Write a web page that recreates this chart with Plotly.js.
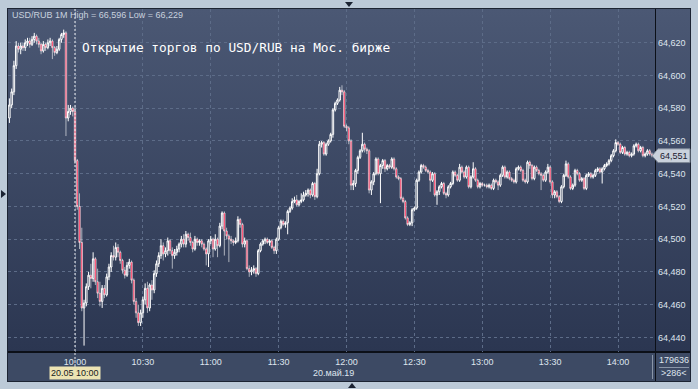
<!DOCTYPE html>
<html><head><meta charset="utf-8">
<script src="https://cdn.plot.ly/plotly-3.0.1.min.js"></script>
<style>
html,body{margin:0;padding:0;background:#bccad8;}
#wrap{position:relative;width:698px;height:389px;overflow:hidden;background:#bccad8;}
#bgTop{position:absolute;left:8px;top:9px;width:682px;height:343px;background:linear-gradient(#4b5874,#2b3651);}
#bgBot{position:absolute;left:8px;top:352px;width:682px;height:29px;background:#3d4a64;}
#frame{position:absolute;left:7px;top:8px;width:682px;height:372px;border:1px solid #1c2433;}
#hline{position:absolute;left:8px;top:351px;width:682px;height:2px;background:#0c1018;}
#vline{position:absolute;left:655px;top:9px;width:1px;height:372px;background:#0c1018;}
#vsep{position:absolute;left:652px;top:355px;width:1px;height:24px;background:#8a96a8;}
#hsep{position:absolute;left:659px;top:367px;width:30px;height:1px;background:#8a96a8;}
#chart{position:absolute;left:0;top:0;width:698px;height:389px;}
</style></head>
<body><div id="wrap">
<div id="bgTop"></div><div id="bgBot"></div><div id="frame"></div>
<div id="hline"></div><div id="vline"></div><div id="vsep"></div><div id="hsep"></div>
<div id="chart"></div></div>
<script>
const startDay = '2019-05-20';
const startMinute = 9 * 60 + 31; // first candle 09:31, 1-minute bars

const openPrices = [
64.574,64.582,64.590,64.606,64.618,64.616,64.618,64.617,64.620,64.621,
64.619,64.622,64.624,64.621,64.619,64.615,64.619,64.617,64.620,64.621,
64.617,64.614,64.616,64.622,64.625,64.626,64.574,64.578,64.580,64.578,
64.548,64.520,64.498,64.458,64.461,64.471,64.478,64.476,64.488,64.474,
64.467,64.462,64.470,64.466,64.477,64.483,64.490,64.489,64.495,64.492,
64.487,64.481,64.478,64.484,64.486,64.475,64.462,64.455,64.449,64.455,
64.463,64.470,64.458,64.472,64.469,64.479,64.485,64.490,64.496,64.491,
64.493,64.499,64.493,64.490,64.492,64.494,64.497,64.500,64.497,64.503,
64.501,64.498,64.494,64.500,64.498,64.499,64.497,64.494,64.491,64.499,
64.500,64.494,64.500,64.496,64.508,64.516,64.505,64.502,64.500,64.499,
64.498,64.499,64.512,64.509,64.497,64.499,64.482,64.480,64.481,64.482,
64.479,64.493,64.497,64.499,64.500,64.498,64.499,64.495,64.493,64.500,
64.507,64.511,64.509,64.510,64.517,64.519,64.523,64.524,64.521,64.523,
64.524,64.527,64.528,64.530,64.527,64.534,64.526,64.540,64.558,64.559,
64.552,64.558,64.560,64.564,64.579,64.583,64.585,64.591,64.590,64.569,
64.568,64.560,64.533,64.534,64.542,64.550,64.554,64.558,64.555,64.554,
64.530,64.535,64.540,64.549,64.540,64.545,64.548,64.543,64.545,64.544,
64.549,64.543,64.538,64.537,64.525,64.523,64.513,64.509,64.510,64.518,
64.519,64.536,64.541,64.545,64.544,64.542,64.541,64.536,64.540,64.527,
64.529,64.532,64.534,64.528,64.527,64.532,64.534,64.541,64.539,64.536,
64.544,64.541,64.538,64.544,64.532,64.538,64.543,64.536,64.532,64.534,
64.533,64.533,64.532,64.533,64.531,64.536,64.535,64.533,64.539,64.544,
64.538,64.541,64.537,64.536,64.535,64.543,64.544,64.542,64.536,64.535,
64.547,64.545,64.537,64.544,64.542,64.540,64.539,64.536,64.541,64.544,
64.535,64.527,64.529,64.526,64.523,64.532,64.539,64.546,64.538,64.531,
64.533,64.542,64.540,64.536,64.537,64.531,64.539,64.540,64.538,64.539,
64.542,64.543,64.541,64.543,64.545,64.546,64.548,64.551,64.554,64.559,
64.558,64.553,64.556,64.552,64.553,64.551,64.552,64.557,64.558,64.554,
64.556,64.551,64.552,64.554,64.552,64.551];

const closePrices = [
64.582,64.590,64.606,64.618,64.616,64.618,64.617,64.620,64.621,64.619,
64.622,64.624,64.621,64.619,64.615,64.619,64.617,64.620,64.621,64.617,
64.614,64.616,64.622,64.625,64.626,64.574,64.578,64.580,64.578,64.548,
64.520,64.498,64.458,64.461,64.471,64.478,64.476,64.488,64.474,64.467,
64.462,64.470,64.466,64.477,64.483,64.490,64.489,64.495,64.492,64.487,
64.481,64.478,64.484,64.486,64.475,64.462,64.455,64.449,64.455,64.463,
64.470,64.458,64.472,64.469,64.479,64.485,64.490,64.496,64.491,64.493,
64.499,64.493,64.490,64.492,64.494,64.497,64.500,64.497,64.503,64.501,
64.498,64.494,64.500,64.498,64.499,64.497,64.494,64.491,64.499,64.500,
64.494,64.500,64.496,64.508,64.516,64.505,64.502,64.500,64.499,64.498,
64.499,64.512,64.509,64.497,64.499,64.482,64.480,64.481,64.482,64.479,
64.493,64.497,64.499,64.500,64.498,64.499,64.495,64.493,64.500,64.507,
64.511,64.509,64.510,64.517,64.519,64.523,64.524,64.521,64.523,64.524,
64.527,64.528,64.530,64.527,64.534,64.526,64.540,64.558,64.559,64.552,
64.558,64.560,64.564,64.579,64.583,64.585,64.591,64.590,64.569,64.568,
64.560,64.533,64.534,64.542,64.550,64.554,64.558,64.555,64.554,64.530,
64.535,64.540,64.549,64.540,64.545,64.548,64.543,64.545,64.544,64.549,
64.543,64.538,64.537,64.525,64.523,64.513,64.509,64.510,64.518,64.519,
64.536,64.541,64.545,64.544,64.542,64.541,64.536,64.540,64.527,64.529,
64.532,64.534,64.528,64.527,64.532,64.534,64.541,64.539,64.536,64.544,
64.541,64.538,64.544,64.532,64.538,64.543,64.536,64.532,64.534,64.533,
64.533,64.532,64.533,64.531,64.536,64.535,64.533,64.539,64.544,64.538,
64.541,64.537,64.536,64.535,64.543,64.544,64.542,64.536,64.535,64.547,
64.545,64.537,64.544,64.542,64.540,64.539,64.536,64.541,64.544,64.535,
64.527,64.529,64.526,64.523,64.532,64.539,64.546,64.538,64.531,64.533,
64.542,64.540,64.536,64.537,64.531,64.539,64.540,64.538,64.539,64.542,
64.543,64.541,64.543,64.545,64.546,64.548,64.551,64.554,64.559,64.558,
64.553,64.556,64.552,64.553,64.551,64.552,64.557,64.558,64.554,64.556,
64.551,64.552,64.554,64.552,64.551,64.551];

const highPrices = [
64.586,64.592,64.609,64.621,64.620,64.620,64.620,64.622,64.623,64.623,
64.624,64.626,64.625,64.623,64.620,64.621,64.620,64.622,64.623,64.622,
64.618,64.618,64.623,64.626,64.628,64.627,64.582,64.582,64.581,64.581,
64.549,64.528,64.507,64.463,64.473,64.480,64.485,64.492,64.489,64.482,
64.474,64.472,64.472,64.479,64.485,64.492,64.496,64.498,64.497,64.493,
64.488,64.483,64.486,64.488,64.487,64.476,64.464,64.460,64.457,64.465,
64.473,64.474,64.473,64.475,64.481,64.487,64.492,64.500,64.498,64.495,
64.501,64.500,64.495,64.494,64.496,64.498,64.502,64.503,64.505,64.504,
64.504,64.499,64.502,64.501,64.500,64.500,64.498,64.495,64.500,64.502,
64.501,64.503,64.501,64.510,64.517,64.517,64.507,64.503,64.502,64.500,
64.501,64.514,64.513,64.510,64.501,64.500,64.484,64.483,64.484,64.483,
64.494,64.498,64.500,64.501,64.501,64.500,64.500,64.496,64.501,64.508,
64.512,64.512,64.511,64.518,64.520,64.525,64.526,64.527,64.524,64.528,
64.529,64.530,64.531,64.531,64.535,64.535,64.543,64.560,64.560,64.560,
64.559,64.561,64.565,64.580,64.584,64.586,64.593,64.594,64.591,64.570,
64.569,64.561,64.536,64.543,64.551,64.555,64.565,64.559,64.556,64.555,
64.536,64.541,64.550,64.550,64.546,64.549,64.549,64.546,64.546,64.550,
64.550,64.544,64.539,64.538,64.526,64.524,64.514,64.511,64.519,64.520,
64.537,64.542,64.546,64.546,64.545,64.543,64.542,64.541,64.541,64.530,
64.533,64.535,64.535,64.529,64.533,64.535,64.542,64.542,64.540,64.546,
64.545,64.542,64.545,64.545,64.539,64.547,64.544,64.537,64.535,64.535,
64.534,64.534,64.534,64.534,64.537,64.537,64.536,64.540,64.545,64.545,
64.542,64.542,64.538,64.537,64.544,64.545,64.545,64.543,64.537,64.548,
64.548,64.546,64.545,64.545,64.543,64.541,64.540,64.542,64.546,64.545,
64.536,64.530,64.530,64.527,64.533,64.540,64.548,64.547,64.539,64.534,
64.543,64.543,64.541,64.538,64.538,64.540,64.541,64.541,64.540,64.543,
64.544,64.544,64.544,64.546,64.547,64.549,64.552,64.555,64.561,64.560,
64.559,64.557,64.557,64.554,64.554,64.553,64.558,64.559,64.559,64.557,
64.557,64.553,64.555,64.555,64.553,64.552];

const lowPrices = [
64.571,64.580,64.588,64.604,64.614,64.613,64.615,64.615,64.618,64.617,
64.618,64.620,64.619,64.617,64.613,64.614,64.615,64.616,64.618,64.610,
64.612,64.613,64.615,64.620,64.623,64.563,64.572,64.576,64.575,64.546,
64.518,64.494,64.456,64.435,64.459,64.469,64.470,64.474,64.472,64.464,
64.459,64.458,64.464,64.465,64.475,64.480,64.487,64.487,64.489,64.485,
64.479,64.476,64.477,64.482,64.473,64.460,64.452,64.447,64.447,64.452,
64.460,64.455,64.456,64.463,64.467,64.477,64.483,64.488,64.487,64.489,
64.490,64.491,64.482,64.488,64.490,64.492,64.495,64.495,64.495,64.499,
64.496,64.492,64.493,64.496,64.496,64.495,64.493,64.484,64.483,64.497,
64.489,64.493,64.489,64.495,64.506,64.490,64.500,64.486,64.497,64.496,
64.497,64.498,64.507,64.495,64.495,64.481,64.477,64.478,64.479,64.477,
64.478,64.492,64.496,64.497,64.497,64.496,64.494,64.491,64.491,64.499,
64.506,64.508,64.507,64.503,64.516,64.518,64.522,64.520,64.520,64.522,
64.523,64.526,64.526,64.525,64.526,64.524,64.525,64.539,64.556,64.551,
64.551,64.557,64.559,64.562,64.578,64.582,64.584,64.588,64.568,64.566,
64.558,64.530,64.530,64.532,64.540,64.549,64.553,64.553,64.552,64.528,
64.527,64.533,64.539,64.539,64.522,64.543,64.541,64.542,64.543,64.543,
64.542,64.537,64.536,64.524,64.522,64.512,64.508,64.508,64.508,64.517,
64.518,64.535,64.540,64.543,64.541,64.540,64.529,64.535,64.526,64.521,
64.527,64.531,64.527,64.525,64.526,64.531,64.533,64.538,64.535,64.535,
64.540,64.537,64.537,64.531,64.531,64.537,64.535,64.531,64.531,64.532,
64.532,64.531,64.531,64.530,64.530,64.534,64.530,64.532,64.538,64.537,
64.537,64.536,64.535,64.534,64.534,64.542,64.541,64.535,64.534,64.534,
64.543,64.536,64.536,64.541,64.539,64.530,64.535,64.535,64.540,64.534,
64.525,64.525,64.525,64.522,64.522,64.531,64.538,64.537,64.530,64.530,
64.532,64.539,64.535,64.535,64.530,64.530,64.538,64.537,64.537,64.538,
64.541,64.540,64.534,64.542,64.544,64.545,64.547,64.550,64.553,64.557,
64.552,64.552,64.551,64.551,64.550,64.550,64.551,64.556,64.553,64.553,
64.550,64.550,64.551,64.551,64.550,64.550];

const xTickVals = ['2019-05-20 10:00','2019-05-20 10:30','2019-05-20 11:00','2019-05-20 11:30',
  '2019-05-20 12:00','2019-05-20 12:30','2019-05-20 13:00','2019-05-20 13:30','2019-05-20 14:00'];
const xTickText = ['10:00','10:30','11:00','11:30','12:00','12:30','13:00','13:30','14:00'];
const yTickVals = [64.44,64.46,64.48,64.50,64.52,64.54,64.56,64.58,64.60,64.62];
const yTickText = ['64,440','64,460','64,480','64,500','64,520','64,540','64,560','64,580','64,600','64,620'];

const headerText = 'USD/RUB 1M High = 66,596 Low = 66,229';
const noteText = 'Открытие торгов по USD/RUB на Мос. бирже';
const cursorTime = '2019-05-20 10:00';
const cursorLabel = '20.05 10:00';
const dateLabel = '20.май.19';
const volumeLabel = '179636';
const countLabel = '>286<';

function pad(n){return (n<10?'0':'')+n;}
const times = openPrices.map((_, i) => {
  const m = startMinute + i;
  return startDay + ' ' + pad(Math.floor(m/60)) + ':' + pad(m%60) + ':00';
});

const lastClose = closePrices[closePrices.length-1];
const lastLabel = lastClose.toFixed(3).replace('.', ',');

const trace = {
  type: 'candlestick',
  x: times, open: openPrices, high: highPrices, low: lowPrices, close: closePrices,
  increasing: {line: {color: '#ffffff', width: 1}, fillcolor: '#34405c'},
  decreasing: {line: {color: '#ffffff', width: 0.6}, fillcolor: '#ff1040'},
  whiskerwidth: 0,
  hoverinfo: 'skip'
};

const W = 647, H = 343;
const px = v => (v - 8) / W;
const py = v => (352 - v) / H;

const layout = {
  width: 698, height: 389,
  margin: {l: 8, r: 43, t: 9, b: 37, pad: 0},
  paper_bgcolor: 'rgba(0,0,0,0)', plot_bgcolor: 'rgba(0,0,0,0)',
  font: {family: 'Liberation Sans, Arial, sans-serif', size: 9, color: '#dfe5ee'},
  showlegend: false,
  hovermode: false,
  boxgap: 0.1,
  xaxis: {
    type: 'date', range: ['2019-05-20 09:30:23', '2019-05-20 14:16:21'],
    rangeslider: {visible: false},
    tickmode: 'array', tickvals: xTickVals, ticktext: xTickText,
    showgrid: true, gridcolor: '#5d6c88', griddash: '3px,3px', gridwidth: 1,
    zeroline: false, showline: false, ticks: '', ticklen: 0, ticklabelstandoff: 3,
    tickfont: {size: 9, color: '#dfe5ee'}, fixedrange: true
  },
  yaxis: {
    side: 'right', range: [64.4311, 64.6406],
    tickmode: 'array', tickvals: yTickVals, ticktext: yTickText,
    showgrid: true, gridcolor: '#5d6c88', griddash: '3px,3px', gridwidth: 1,
    zeroline: false, showline: false, ticks: '', ticklen: 0, ticklabelstandoff: 2,
    tickfont: {size: 9, color: '#dfe5ee'}, fixedrange: true
  },
  shapes: [
    {type: 'line', xref: 'x', yref: 'paper', x0: cursorTime, x1: cursorTime, y0: 1, y1: py(367),
     line: {color: 'rgba(255,255,255,0.9)', width: 1, dash: '2px,2px'}},
    {type: 'path', xref: 'paper', yref: 'paper',
     path: `M ${px(345)} ${py(2)} L ${px(353)} ${py(2)} L ${px(349)} ${py(7)} Z`,
     fillcolor: '#1a2232', line: {width: 0}},
    {type: 'path', xref: 'paper', yref: 'paper',
     path: `M ${px(348)} ${py(388)} L ${px(356)} ${py(388)} L ${px(352)} ${py(383)} Z`,
     fillcolor: '#1a2232', line: {width: 0}},
    {type: 'path', xref: 'paper', yref: 'paper',
     path: `M ${px(1)} ${py(190)} L ${px(1)} ${py(198)} L ${px(6)} ${py(194)} Z`,
     fillcolor: '#1a2232', line: {width: 0}},
    {type: 'path', xref: 'paper', yref: 'y',
     path: `M ${px(652)} ${lastClose} L ${px(658)} ${lastClose + 0.0042} L ${px(690)} ${lastClose + 0.0042} L ${px(690)} ${lastClose - 0.0042} L ${px(658)} ${lastClose - 0.0042} Z`,
     fillcolor: '#c9d1dc', line: {color: '#7d8796', width: 1}}
  ],
  annotations: [
    {xref: 'paper', yref: 'paper', x: px(10), y: py(15), xanchor: 'left', yanchor: 'middle',
     text: headerText, showarrow: false, font: {size: 9, color: '#c8d1de'}},
    {xref: 'paper', yref: 'paper', x: px(80), y: py(48), xanchor: 'left', yanchor: 'middle',
     text: noteText, showarrow: false,
     font: {family: 'DejaVu Sans Mono, monospace', size: 12.8, color: '#ffffff'}},
    {xref: 'x', yref: 'paper', x: cursorTime, y: py(373), xanchor: 'center', yanchor: 'middle',
     text: cursorLabel, showarrow: false, bgcolor: '#ece3b3', borderpad: 1,
     font: {size: 9, color: '#151a22'}},
    {xref: 'paper', yref: 'paper', x: px(333), y: py(373), xanchor: 'center', yanchor: 'middle',
     text: dateLabel, showarrow: false, font: {size: 9, color: '#dfe5ee'}},
    {xref: 'paper', yref: 'paper', x: px(674), y: py(360), xanchor: 'center', yanchor: 'middle',
     text: volumeLabel, showarrow: false, font: {size: 9, color: '#dfe5ee'}},
    {xref: 'paper', yref: 'paper', x: px(674), y: py(373), xanchor: 'center', yanchor: 'middle',
     text: countLabel, showarrow: false, font: {size: 9, color: '#dfe5ee'}},
    {xref: 'paper', yref: 'y', x: px(674), y: lastClose, xanchor: 'center', yanchor: 'middle',
     text: lastLabel, showarrow: false, font: {size: 9, color: '#1a2030'}}
  ]
};

Plotly.newPlot('chart', [trace], layout, {staticPlot: true, displayModeBar: false});
</script>
</body></html>
